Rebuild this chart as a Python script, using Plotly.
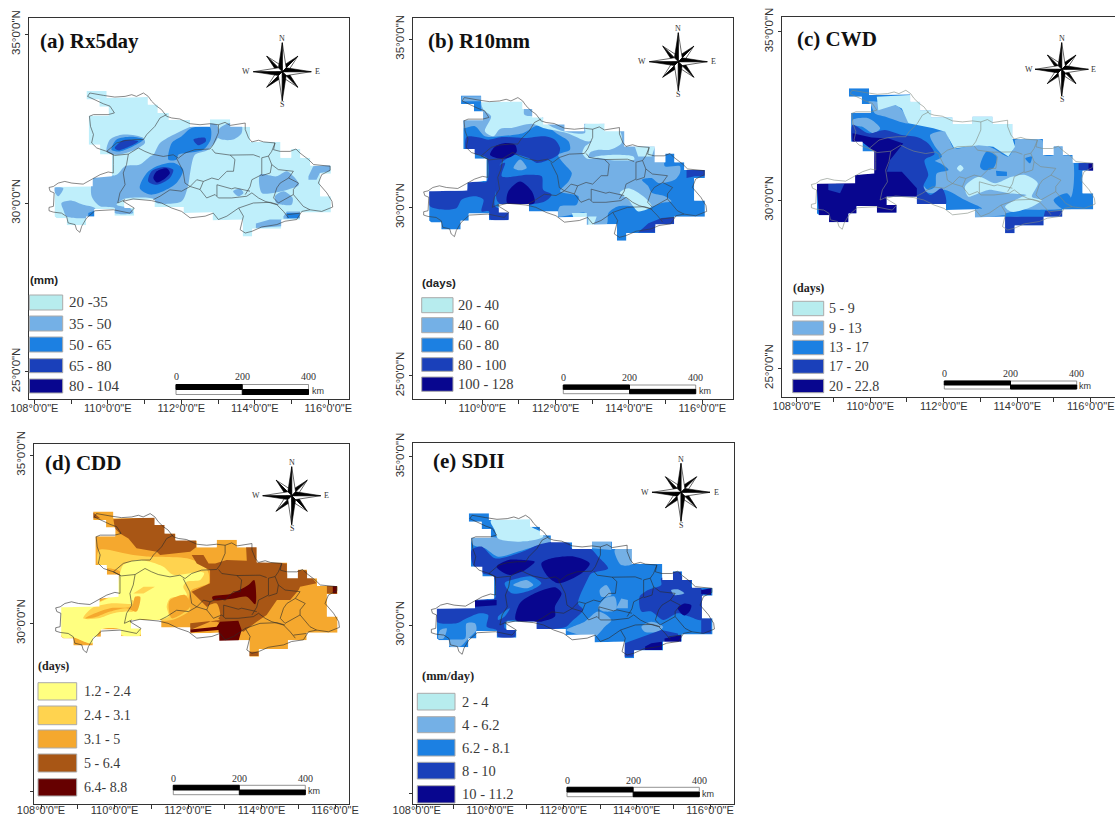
import math
import plotly.graph_objects as go

W, H = 1115, 818

BLUES = ["#B7ECEE", "#74B0E6", "#1C80E2", "#1A40BA", "#08068F"]
MAP_BLUES = ["#BFEFFB", "#74B0E6", "#1C80E2", "#1A40BA", "#08068F"]
BROWNS = ["#FFFF80", "#FFD34F", "#F5A82E", "#A85615", "#660000"]

LON_TICKS = [108, 110, 112, 114, 116]
LON_MINOR = [109, 111, 113, 115, 117]
LAT_TICKS = [25, 30, 35]

PROVINCE = [(109.45,33.16),(109.51,33.26),(109.88,33.19),(110.19,33.14),(110.47,33.16),(110.65,33.21),(110.78,33.16),(110.97,33.26),(111.10,33.16),(111.19,33.02),(111.33,32.87),(111.46,32.77),(111.60,32.57),(111.74,32.52),(111.96,32.49),(112.24,32.35),(112.51,32.32),(112.78,32.35),(113.01,32.32),(113.19,32.39),(113.33,32.30),(113.74,32.37),(113.74,32.18),(113.83,31.93),(113.92,31.81),(114.10,31.86),(114.24,31.81),(114.55,31.78),(114.51,31.58),(114.69,31.53),(114.96,31.53),(115.12,31.60),(115.23,31.48),(115.46,31.29),(115.60,31.14),(116.05,31.09),(116.05,30.97),(115.82,30.84),(115.73,30.59),(115.96,30.30),(116.10,30.05),(116.12,29.88),(115.82,29.75),(115.50,29.80),(115.28,29.75),(115.14,29.51),(114.82,29.46),(114.60,29.36),(114.19,29.29),(113.92,29.16),(113.74,29.11),(113.60,29.21),(113.69,29.61),(113.56,29.85),(113.24,29.61),(113.01,29.51),(112.87,29.70),(112.65,29.61),(112.24,29.56),(112.01,29.75),(111.74,29.85),(111.46,30.00),(111.19,30.07),(110.69,30.12),(110.42,30.05),(110.72,29.85),(110.60,29.70),(110.15,29.80),(109.65,29.77),(109.51,29.65),(109.42,29.55),(109.29,29.31),(109.24,29.13),(109.15,29.21),(109.11,29.36),(108.92,29.41),(108.88,29.60),(108.74,29.70),(108.52,29.73),(108.40,29.77),(108.40,29.87),(108.52,29.90),(108.53,30.10),(108.54,30.30),(108.43,30.35),(108.40,30.46),(108.52,30.49),(108.65,30.59),(108.83,30.64),(109.02,30.59),(109.33,30.56),(109.65,30.74),(109.79,30.84),(110.01,30.92),(110.15,30.89),(110.15,31.14),(110.15,31.43),(109.97,31.53),(109.70,31.63),(109.56,31.78),(109.61,32.03),(109.53,32.27),(109.50,32.57),(109.61,32.62),(110.01,32.62),(110.18,32.67),(110.06,32.87),(109.88,32.94),(109.65,33.06),(109.45,33.16)]

PREFECTURES = [
 [(109.97,31.53),(110.24,31.78),(110.47,31.85),(110.74,31.88),(110.97,31.88),(111.06,32.03),(111.28,32.27),(111.42,32.52),(111.60,32.62)],
 [(109.97,31.53),(110.19,31.41),(110.56,31.45),(110.83,31.63),(111.01,31.53),(111.19,31.45),(111.51,31.38),(111.78,31.43),(111.92,31.33),(112.10,31.48),(112.37,31.58),(112.78,31.60),(112.87,31.73),(113.01,32.08),(113.01,32.32)],
 [(110.56,31.45),(110.51,31.14),(110.42,30.89),(110.47,30.54),(110.33,30.30),(110.27,30.00),(110.47,30.10)],
 [(111.87,31.33),(112.05,30.94),(112.10,30.59),(112.24,30.49),(112.01,30.35),(111.69,30.39),(111.42,30.20),(111.24,30.10)],
 [(112.83,31.60),(112.92,31.48),(113.33,31.42),(113.96,31.43),(114.14,31.36)],
 [(113.33,31.42),(113.46,31.29),(113.42,30.94),(113.24,30.94),(113.01,30.69),(112.83,30.74),(112.60,30.64),(112.51,30.40),(112.69,30.15),(112.92,30.25),(113.01,30.15),(113.37,30.15),(113.78,30.20),(113.92,30.30),(114.10,30.15),(114.28,30.05),(114.60,29.95),(114.78,29.75),(114.92,29.56)],
 [(112.60,30.64),(112.42,30.69),(112.24,30.49),(112.51,30.40)],
 [(112.97,30.54),(112.97,30.20)],
 [(112.97,30.54),(113.37,30.42),(113.46,30.45),(113.87,30.35)],
 [(114.19,31.34),(114.19,30.84),(113.92,30.69),(113.87,30.48),(113.74,30.25)],
 [(114.19,31.34),(114.37,31.39),(114.46,31.14),(114.42,30.89),(114.19,30.81)],
 [(114.55,31.78),(114.46,31.53),(114.37,31.39)],
 [(114.46,31.14),(114.64,30.99),(115.05,30.94),(114.92,30.74),(114.69,30.59),(114.60,30.45),(114.51,30.15),(114.64,30.00),(115.05,30.25),(115.32,29.90),(115.50,29.80)],
 [(114.92,30.74),(115.19,30.59),(115.05,30.40),(115.05,30.25)],
 [(113.56,29.85),(113.96,30.00),(114.42,30.02),(114.64,29.95)],
 [(114.87,29.65),(115.23,29.70)],
]

GRID_MASK = [(109.42,33.32),(109.97,33.32),(109.97,33.12),(111.09,33.14),(111.09,32.92),(111.36,32.92),(111.36,32.67),(111.66,32.67),(111.66,32.46),(112.24,32.46),(112.24,32.26),(112.78,32.26),(112.78,32.48),(113.33,32.48),(113.33,32.26),(113.87,32.26),(113.87,31.81),(114.70,31.81),(114.70,31.34),(114.99,31.34),(114.99,31.60),(115.24,31.60),(115.24,31.34),(115.51,31.34),(115.51,31.11),(116.07,31.11),(116.07,30.87),(115.78,30.87),(115.78,30.20),(116.07,30.20),(116.07,29.72),(115.23,29.72),(115.23,29.50),(114.72,29.50),(114.72,29.24),(113.93,29.24),(113.93,29.01),(113.67,29.01),(113.67,29.50),(113.38,29.50),(112.85,29.48),(112.85,29.72),(112.06,29.70),(112.06,29.88),(111.27,29.88),(111.27,30.10),(110.45,30.10),(110.45,29.85),(110.72,29.85),(110.72,29.62),(110.18,29.62),(110.18,29.82),(109.63,29.82),(109.63,29.60),(109.41,29.60),(109.41,29.34),(108.88,29.34),(108.88,29.55),(108.61,29.55),(108.55,29.60),(108.55,30.48),(109.59,30.50),(109.59,30.74),(110.11,30.79),(110.11,31.44),(109.79,31.44),(109.79,31.73),(109.48,31.73),(109.48,32.59),(110.02,32.59),(110.02,32.85),(109.77,32.85),(109.77,33.07),(109.42,33.07)]

# (a) Rx5day
A_CLASS2 = [
 [(109.97,31.53),(110.06,31.88),(110.42,32.03),(110.97,31.93),(111.01,31.78),(110.74,31.58),(110.24,31.43)],
 [(111.24,31.43),(111.42,31.78),(111.87,32.07),(112.42,32.32),(112.96,32.32),(113.01,31.98),(112.73,31.58),(112.37,31.43),(112.24,30.89),(112.19,30.54),(112.01,30.05),(111.33,30.00),(111.24,30.12),(110.44,30.12),(110.24,29.95),(110.60,29.85),(110.69,29.70),(110.19,29.70),(110.19,29.85),(109.79,29.90),(109.56,30.20),(109.61,30.74),(110.24,30.84),(110.47,31.09),(110.87,31.14),(111.15,31.38)],
 [(108.74,30.00),(109.02,30.07),(109.33,29.95),(109.65,29.85),(109.65,29.60),(108.88,29.60),(108.79,29.80)],
 [(108.52,30.44),(108.79,30.44),(108.65,30.20)],
 [(113.05,32.22),(113.32,32.37),(113.64,32.32),(113.64,32.07),(113.41,31.88),(113.10,31.88),(112.96,31.98)],
 [(114.14,30.84),(114.59,30.79),(114.87,30.94),(115.05,30.79),(115.20,30.54),(114.91,30.40),(114.50,30.30),(114.19,30.30)],
 [(114.55,30.20),(114.78,30.35),(115.03,30.15),(115.00,29.95),(114.59,30.00)],
 [(115.46,30.79),(115.59,31.09),(116.05,31.14),(116.05,30.94),(115.77,30.89),(115.68,30.69),(115.46,30.69)],
 [(114.03,29.39),(114.41,29.51),(114.73,29.51),(114.73,29.31),(114.03,29.26)],
 [(114.78,29.60),(114.87,29.75),(115.23,29.75),(115.23,29.55),(114.78,29.53)],
 [(113.41,30.35),(113.60,30.42),(113.69,30.30),(113.55,30.20)],
]
A_CLASS3 = [
 [(110.10,31.58),(110.24,31.88),(110.65,31.96),(110.97,31.88),(110.69,31.68),(110.33,31.53)],
 [(111.65,31.28),(111.74,31.78),(112.01,31.98),(112.28,32.22),(112.78,32.25),(112.80,31.88),(112.60,31.58),(112.14,31.48),(111.92,31.43),(111.87,31.28)],
 [(110.87,30.44),(111.06,30.89),(111.33,31.09),(111.78,31.19),(112.05,30.99),(111.87,30.59),(111.51,30.35),(111.15,30.25)],
 [(109.47,29.70),(109.65,29.78),(109.65,29.60),(109.47,29.60)],
 [(114.87,29.70),(115.23,29.70),(115.18,29.55),(114.87,29.55)],
]
A_CLASS4 = [
 [(110.19,31.63),(110.42,31.86),(110.83,31.83),(110.60,31.68),(110.29,31.56)],
 [(112.33,31.88),(112.65,31.93),(112.67,31.83),(112.46,31.71)],
 [(111.10,30.64),(111.19,30.94),(111.51,31.07),(111.78,30.99),(111.69,30.74),(111.33,30.54)],
]
A_CLASS5 = [
 [(111.24,30.74),(111.33,30.94),(111.60,31.03),(111.69,30.89),(111.51,30.69),(111.33,30.61)],
]

# (b) R10mm
B_CLASS2 = [
 [(109.48,32.65),(109.98,32.65),(109.98,33.15),(111.12,33.20),(111.62,32.75),(112.80,32.49),(113.80,32.49),(114.12,31.81),(114.71,31.81),(114.71,31.47),(114.94,31.51),(114.98,31.22),(115.39,31.22),(115.39,31.02),(115.25,30.82),(114.80,30.72),(114.62,30.87),(114.35,30.82),(114.53,30.62),(114.62,30.43),(114.98,30.33),(115.16,30.18),(114.89,30.13),(114.53,29.98),(114.16,30.03),(113.71,30.03),(113.44,29.83),(113.39,29.49),(112.80,29.49),(112.80,29.83),(112.07,29.73),(112.12,30.03),(112.57,30.08),(112.62,30.33),(112.12,30.48),(112.35,30.77),(112.44,31.02),(112.21,31.32),(112.07,31.56),(112.39,31.71),(112.35,31.96),(112.07,32.16),(111.66,32.45),(111.44,32.41),(111.12,32.21),(110.48,32.11),(110.07,32.11),(109.80,32.41),(109.48,32.36)],
 [(109.44,33.30),(109.98,33.30),(109.98,33.15),(109.44,33.15)],
 [(110.85,31.17),(111.03,31.42),(111.21,31.17),(111.03,31.10)],
]
B_CLASS1 = [
 [(109.98,33.15),(111.12,33.17),(111.15,32.75),(111.62,32.68),(111.80,32.45),(112.21,32.26),(112.80,32.21),(112.80,32.46),(113.35,32.46),(113.35,32.31),(113.75,32.26),(113.80,31.91),(113.48,31.71),(113.16,31.71),(112.94,31.63),(112.89,31.47),(113.21,31.53),(113.71,31.56),(114.12,31.51),(114.15,31.42),(113.53,31.40),(113.16,31.47),(112.87,31.44),(112.73,31.61),(112.80,31.81),(112.98,31.96),(112.85,31.96),(112.30,32.21),(111.66,32.36),(111.35,32.48),(110.80,32.36),(110.48,32.33),(110.30,32.11),(110.07,32.26),(110.24,32.70),(110.03,32.90)],
 [(114.16,31.81),(114.71,31.81),(114.62,31.51),(114.25,31.51)],
 [(113.75,30.43),(113.98,30.57),(114.39,30.33),(114.62,30.03),(114.25,29.88),(113.98,30.23)],
 [(112.44,29.83),(112.85,29.83),(112.85,29.68),(112.48,29.71)],
 [(112.89,29.73),(113.12,29.73),(113.03,29.46),(112.89,29.46)],
]
B_CLASS4 = [
 [(109.57,32.09),(109.98,32.06),(110.16,32.01),(110.53,32.09),(111.16,32.06),(111.71,32.11),(111.98,32.01),(112.12,31.76),(112.07,31.56),(111.71,31.37),(111.48,31.32),(111.25,31.47),(110.89,31.56),(110.48,31.27),(110.39,30.62),(110.35,30.03),(110.73,29.88),(110.73,29.65),(110.21,29.65),(110.18,29.88),(109.98,29.88),(110.03,30.23),(109.80,30.33),(109.44,30.23),(109.30,29.98),(108.98,29.93),(108.57,30.03),(108.55,30.48),(109.57,30.52),(109.62,30.77),(110.12,30.77),(110.12,31.47),(109.57,31.66)],
 [(110.44,31.22),(110.62,31.32),(110.53,30.92),(111.25,30.97),(111.62,30.92),(111.66,30.52),(111.89,30.38),(111.71,30.18),(111.25,30.08),(110.48,30.11),(110.39,30.23)],
 [(115.57,31.12),(116.07,31.12),(116.07,30.92),(115.80,30.92),(115.57,30.87)],
 [(114.25,29.25),(114.53,29.53),(114.89,29.68),(115.25,29.71),(115.25,29.51),(114.71,29.44),(114.71,29.25)],
]
B_CLASS5 = [
 [(110.21,31.56),(110.35,31.81),(110.62,31.91),(110.89,31.86),(110.94,31.66),(110.80,31.51),(110.48,31.44)],
 [(110.68,30.13),(110.71,30.48),(111.03,30.77),(111.35,30.48),(111.42,30.13)],
]

# (c) CWD
C_CLASS2 = [
 [(109.52,32.38),(109.95,32.43),(110.27,32.13),(110.09,31.98),(109.77,32.18),(109.52,32.23)],
 [(109.95,32.92),(110.77,32.77),(111.04,32.28),(110.40,32.48),(110.13,32.57),(110.02,32.82)],
 [(111.63,31.93),(112.04,32.03),(112.29,31.53),(112.95,31.66),(113.35,31.53),(113.76,31.29),(113.94,31.68),(113.94,31.78),(114.67,31.78),(114.72,31.34),(114.99,31.34),(114.99,31.58),(115.24,31.58),(115.24,31.34),(115.49,31.29),(115.49,30.15),(115.21,29.75),(114.58,29.70),(114.03,29.50),(113.67,29.55),(112.85,29.50),(112.85,29.72),(113.04,29.75),(112.58,30.00),(112.04,30.30),(111.68,30.20),(111.45,30.30),(111.54,30.69),(111.58,31.04),(111.95,31.29),(111.77,31.58)],
]
C_CLASS3 = [
 [(112.99,30.99),(113.17,31.44),(113.44,31.29),(113.35,30.94),(113.08,30.89)],
 [(113.42,30.87),(113.72,30.84),(113.72,30.71),(113.44,30.71)],
 [(114.22,31.24),(114.40,31.29),(114.35,31.09)],
 [(114.99,30.00),(115.35,30.20),(115.49,30.00),(115.49,29.75),(115.21,29.75)],
 [(113.67,29.60),(114.13,29.72),(114.81,29.70),(115.21,29.72),(115.21,29.50),(113.67,29.50)],
 [(111.54,31.19),(111.90,31.09),(112.13,30.89),(111.81,30.79),(111.77,30.40),(111.58,30.30),(111.45,30.45)],
]
C_CLASS4 = [
 [(109.52,32.23),(109.95,31.98),(110.40,32.08),(110.86,31.93),(111.31,31.86),(111.58,31.68),(111.75,31.37),(111.48,31.19),(111.58,30.74),(111.45,30.40),(111.63,30.15),(111.95,30.35),(112.06,29.88),(111.27,29.88),(111.13,30.40),(110.50,30.79),(110.11,30.79),(110.11,31.44),(109.77,31.73),(109.52,31.73)],
 [(113.67,29.50),(114.72,29.50),(114.72,29.24),(113.93,29.24),(113.93,29.01),(113.67,29.01)],
 [(115.67,31.09),(116.07,31.11),(116.07,30.87),(115.67,30.89)],
 [(114.76,29.68),(115.23,29.68),(115.23,29.50),(114.72,29.50)],
]
C_CLASS5 = [
 [(108.54,30.48),(109.59,30.74),(110.09,30.81),(110.11,31.44),(109.77,31.73),(109.52,31.73),(109.52,31.98),(110.04,31.86),(110.50,31.83),(110.90,31.68),(110.54,31.19),(110.45,30.84),(110.86,30.84),(111.27,30.35),(111.27,30.10),(110.45,30.10),(110.45,29.85),(110.72,29.85),(110.72,29.62),(110.18,29.62),(110.18,29.82),(109.63,29.82),(109.63,29.60),(109.41,29.60),(109.41,29.34),(108.88,29.34),(108.88,29.55),(108.61,29.55)],
 [(115.94,31.09),(116.07,31.09),(116.07,30.87),(115.94,30.87)],
]
C_PATCH4 = [
 [(108.86,30.48),(109.30,30.48),(109.18,30.20),(108.86,30.30)],
]
C_CLASS1 = [
 [(110.18,33.07),(111.09,33.12),(111.09,32.92),(111.36,32.92),(111.36,32.67),(111.66,32.67),(111.66,32.46),(112.24,32.46),(112.24,32.26),(112.78,32.26),(112.78,32.48),(113.33,32.48),(113.33,32.26),(113.87,32.26),(113.87,31.83),(113.94,31.58),(113.76,31.29),(113.35,31.58),(112.95,31.63),(112.29,31.53),(112.04,32.03),(111.72,32.13),(111.04,32.28),(110.86,32.72),(110.68,32.82),(110.22,32.67)],
 [(112.58,30.40),(112.95,30.69),(113.40,30.50),(113.85,30.69),(114.22,30.74),(114.56,30.50),(114.40,30.10),(114.67,30.00),(114.40,29.80),(113.85,29.65),(113.67,29.80),(114.13,30.10),(114.26,30.15),(113.76,30.20),(113.22,30.30),(112.95,30.20),(112.67,30.10)],
 [(112.36,30.94),(112.45,31.04),(112.54,30.94),(112.45,30.84)],
]

# (d) CDD
D_CLASS2 = [
 [(109.58,32.18),(110.51,32.03),(110.97,31.98),(111.24,31.98),(111.97,31.93),(112.42,31.73),(112.56,31.49),(112.56,31.19),(112.33,31.09),(112.10,30.99),(112.01,30.69),(112.06,30.40),(111.56,30.10),(111.24,30.08),(110.70,30.08),(110.70,29.65),(110.20,29.65),(110.15,29.82),(109.61,29.82),(109.38,29.41),(108.90,29.58),(108.59,29.60),(108.54,30.50),(109.33,30.54),(110.01,30.94),(110.15,31.53),(109.56,31.73)],
]
D_CLASS1 = [
 [(110.24,31.73),(110.60,31.88),(110.97,31.83),(111.33,31.68),(111.60,31.44),(112.33,31.53),(112.44,31.49),(112.33,31.29),(111.97,31.24),(111.87,31.09),(111.97,30.84),(111.51,30.74),(111.42,30.50),(111.47,30.20),(111.15,30.10),(110.70,30.10),(110.70,29.65),(110.20,29.65),(110.15,29.82),(109.65,29.82),(109.38,29.41),(108.90,29.58),(108.59,29.58),(108.54,30.50),(109.33,30.54),(110.01,30.89),(110.15,31.49)],
]
D_OVER2 = [
 [(109.15,30.15),(109.38,30.45),(109.88,30.59),(110.47,30.59),(110.47,30.69),(110.60,30.59),(110.51,30.35),(110.33,30.35),(109.97,30.30),(109.56,30.15)],
 [(110.51,30.89),(110.79,31.09),(111.10,31.09),(110.79,30.89)],
]
D_OVER3 = [
 [(109.20,30.15),(109.47,30.30),(109.88,30.45),(110.47,30.50),(110.56,30.79),(110.70,30.79),(110.60,30.35),(110.33,30.45),(109.88,30.35),(109.47,30.18)],
 [(111.51,30.69),(111.92,30.84),(112.06,30.50),(111.56,30.15),(111.47,30.50)],
]
D_CLASS4 = [
 [(109.97,33.09),(111.10,33.15),(111.10,32.92),(111.38,32.92),(111.38,32.67),(111.65,32.67),(111.65,32.48),(112.22,32.48),(112.22,32.26),(112.06,32.13),(111.24,32.03),(111.15,32.13),(110.60,32.23),(110.38,32.52),(110.15,32.67),(110.01,32.82)],
 [(112.10,32.03),(112.42,32.03),(112.56,31.78),(112.74,31.78),(113.05,31.88),(113.60,31.86),(113.58,32.28),(113.87,32.28),(113.87,31.83),(114.69,31.78),(114.69,31.49),(114.96,31.49),(114.96,31.58),(115.21,31.58),(115.50,31.19),(115.05,31.09),(115.01,30.99),(114.78,30.69),(114.42,30.69),(114.14,30.25),(113.87,30.05),(113.51,29.75),(112.78,30.05),(112.60,30.05),(112.06,29.80),(112.06,30.00),(112.87,30.10),(112.51,30.50),(112.33,30.69),(112.10,30.94),(112.60,31.19),(112.60,31.58),(112.24,31.78)],
 [(115.78,31.11),(116.05,31.11),(116.05,30.89),(115.78,30.89)],
 [(113.64,29.16),(113.92,29.16),(113.92,29.03),(113.64,29.03)],
 [(109.42,33.29),(109.61,33.12),(109.42,33.12)],
]
D_PATCH3 = [
 [(112.53,30.50),(112.78,30.59),(112.87,30.20),(112.60,30.05),(112.51,30.20)],
]
D_CLASS5 = [
 [(112.66,30.79),(113.15,30.87),(113.64,31.14),(113.80,31.29),(113.83,30.57),(113.60,30.79),(113.24,30.74),(112.69,30.69)],
 [(112.06,29.82),(112.78,29.90),(112.87,30.05),(113.37,30.08),(113.46,29.80),(113.37,29.46),(112.85,29.46),(112.83,29.80),(112.06,29.73)],
 [(115.94,31.11),(116.05,31.11),(116.05,30.89),(115.94,30.89)],
]

# (e) SDII
E_CLASS2 = [
 [(109.48,32.60),(110.18,32.60),(110.95,32.48),(111.49,32.64),(111.77,32.48),(111.22,32.33),(110.77,32.18),(110.22,32.03),(109.86,32.28),(109.54,32.38)],
 [(113.40,32.23),(113.85,32.28),(113.90,31.83),(113.58,31.78)],
 [(112.78,32.48),(113.31,32.48),(113.31,32.23),(112.76,32.28)],
 [(112.99,31.04),(113.17,31.19),(113.31,30.89),(113.04,30.84)],
 [(113.13,30.79),(113.40,30.84),(113.44,30.45),(113.13,30.40),(112.95,30.50)],
 [(112.08,29.85),(112.58,30.10),(112.95,30.40),(113.31,30.15),(113.13,29.95),(112.85,29.65),(112.31,29.75)],
 [(109.36,30.05),(109.59,30.05),(109.63,29.85),(109.41,29.60),(109.18,29.36),(108.91,29.36),(108.86,29.55),(109.32,29.60)],
 [(114.13,29.95),(114.40,30.10),(114.72,29.95),(114.58,29.80),(114.22,29.80)],
 [(113.58,30.79),(113.76,30.74),(113.76,30.50),(113.44,30.50)],
 [(108.64,29.85),(108.82,29.90),(108.73,29.60),(108.59,29.60)],
]
E_CLASS1 = [
 [(110.02,33.10),(111.09,33.14),(111.13,32.92),(111.38,32.77),(111.45,32.62),(110.95,32.48),(110.22,32.57),(110.13,32.82)],
]
E_CLASS4 = [
 [(109.50,32.23),(109.77,32.33),(110.13,31.98),(110.77,32.13),(111.31,32.38),(111.77,32.48),(112.17,32.43),(112.22,32.28),(112.72,32.28),(112.95,32.03),(113.22,31.68),(112.76,31.53),(112.63,31.29),(112.40,30.64),(112.54,30.45),(112.22,30.10),(112.04,29.93),(111.22,29.90),(111.22,30.10),(110.42,30.10),(110.40,29.90),(110.68,29.85),(110.68,29.65),(110.22,29.65),(110.18,29.85),(109.91,29.95),(109.95,30.30),(109.72,30.35),(109.27,30.15),(109.09,30.05),(108.54,30.10),(108.52,30.50),(109.59,30.54),(109.59,30.74),(110.13,30.79),(110.09,31.44),(109.81,31.53),(109.54,31.78)],
 [(114.08,30.84),(114.31,31.04),(114.67,31.19),(114.67,31.39),(115.49,31.39),(115.49,31.14),(115.76,31.09),(115.76,30.15),(115.44,30.25),(115.12,30.35),(114.72,30.15),(114.40,30.40),(114.13,30.40)],
 [(114.96,31.58),(115.21,31.58),(115.21,31.39),(114.96,31.39)],
 [(115.76,30.20),(116.03,30.20),(116.03,29.75),(115.76,29.75)],
 [(113.67,29.46),(114.03,29.60),(114.67,29.85),(115.12,29.75),(115.21,29.50),(114.69,29.50),(114.69,29.26),(113.94,29.26),(113.90,29.06),(113.65,29.06),(113.65,29.31)],
]
E_PATCH3 = [
 [(110.40,31.24),(110.77,31.39),(111.13,31.44),(111.40,31.24),(111.13,31.04),(110.59,30.94)],
 [(110.22,30.25),(110.54,30.50),(110.40,30.25),(110.22,30.15)],
]
E_PATCH2 = [
 [(110.63,31.19),(110.99,31.34),(111.18,31.19),(110.99,31.09)],
 [(114.94,31.04),(115.12,31.06),(115.30,30.94),(115.03,30.89)],
]
E_CLASS5 = [
 [(110.18,31.73),(110.50,31.93),(110.90,31.93),(111.22,31.88),(110.95,31.63),(110.50,31.49)],
 [(111.40,31.83),(111.68,31.98),(112.31,32.03),(112.72,31.83),(112.49,31.53),(111.86,31.24),(111.58,31.44)],
 [(110.70,30.15),(110.81,30.64),(111.22,30.94),(111.77,31.12),(111.95,30.94),(111.77,30.54),(111.77,30.25),(111.40,30.10),(111.22,30.10)],
 [(109.59,30.72),(110.18,30.74),(110.18,30.59),(109.59,30.54)],
 [(115.12,30.50),(115.30,30.64),(115.49,30.59),(115.44,30.40),(115.30,30.28)],
 [(115.76,31.04),(116.03,31.09),(116.03,30.89),(115.76,30.92)],
 [(114.23,29.36),(114.40,29.46),(114.69,29.50),(114.69,29.26),(114.23,29.26)],
 [(114.76,29.60),(115.21,29.70),(115.21,29.50),(114.76,29.50)],
]

TITLES = ["(a) Rx5day", "(b) R10mm", "(c) CWD", "(d) CDD", "(e) SDII"]
UNITS = ["(mm)", "(days)", "(days)", "(days)", "(mm/day)"]
CLASS_LABELS = [
 ["20 -35", "35 - 50", "50 - 65", "65 - 80", "80 - 104"],
 ["20 - 40", "40 - 60", "60 - 80", "80 - 100", "100 - 128"],
 ["5 - 9", "9 - 13", "13 - 17", "17 - 20", "20 - 22.8"],
 ["1.2 - 2.4", "2.4 - 3.1", "3.1 - 5", "5 - 6.4", "6.4- 8.8"],
 ["2 - 4", "4 - 6.2", "6.2 - 8.1", "8 - 10", "10 - 11.2"],
]
SCALE_LABELS = ["0", "200", "400"]

PANELS = [
 dict(frame=(29, 348.5, 18, 399), lon=(34.3, 328.3), lat=(34.3, 371.7), pal=BLUES, map=MAP_BLUES, base=0,
      paint=[(1, A_CLASS2), (2, A_CLASS3), (3, A_CLASS4), (4, A_CLASS5)], line="#3a3a3a",
      title=(40, 41, 21), unit=(29.5, 280, "Liberation Sans", 11.5), swx=(29.3, 62.7),
      swy=[(295, 310), (316, 331), (337, 352), (358.7, 372.7), (379, 393)], tx=69, lsize=15,
      bar=(176, 308.5, 384.5, 394.5), bary=376.5, km=(318, 390.5),
      rose=(282.3, 71.7, 1.0), lat_labels=[True, True, True], standoff=-5),
 dict(frame=(412.7, 733.3, 18, 399), lon=(409.0, 702.3), lat=(39, 375.7), pal=BLUES, map=MAP_BLUES, base=2,
      paint=[(1, B_CLASS2), (0, B_CLASS1), (3, B_CLASS4), (4, B_CLASS5)], line="#3a3a3a",
      title=(428, 41, 21), unit=(421.7, 283, "Liberation Sans", 11.5), swx=(421.7, 453),
      swy=[(297.7, 312.7), (317.7, 332.7), (338, 352), (357.7, 371.3), (377, 391.3)], tx=458, lsize=14.5,
      bar=(563.3, 695.7, 385, 393.7), bary=377, km=(704.5, 390.7),
      rose=(678.3, 61.7, 1.0), lat_labels=[True, True, True], standoff=-5),
 dict(frame=(781.7, 1115, 17.3, 396.7), lon=(796.7, 1090.7), lat=(31.7, 368.3), pal=BLUES, map=MAP_BLUES, base=2,
      paint=[(1, C_CLASS2), (2, C_CLASS3), (3, C_CLASS4), (4, C_CLASS5), (3, C_PATCH4), (0, C_CLASS1)], line="#7f8a80",
      title=(797, 39, 21), unit=(792.7, 288, "Liberation Serif", 12), swx=(792.7, 823.7),
      swy=[(301.3, 315.7), (321, 335), (340.3, 354.7), (359.3, 373.3), (379.3, 392.7)], tx=829, lsize=14,
      bar=(944.3, 1076.7, 381, 389), bary=373.3, km=(1085, 386.3),
      rose=(1061.7, 69.3, 0.92), lat_labels=[True, True, True], standoff=-5),
 dict(frame=(33.7, 348.7, 444.3, 804), lon=(41, 335), lat=(455, 791.7), pal=BROWNS, map=BROWNS, base=2,
      paint=[(1, D_CLASS2), (0, D_CLASS1), (1, D_OVER2), (2, D_OVER3), (3, D_CLASS4), (2, D_PATCH3), (4, D_CLASS5)], line="#2a2a2a",
      title=(44.5, 463, 21), unit=(38.3, 666, "Liberation Serif", 12), swx=(38, 76.7),
      swy=[(682.7, 700), (706, 724.7), (730, 748), (754, 772), (778.7, 796)], tx=84, lsize=14,
      bar=(173.3, 305.3, 785.3, 794.7), bary=778, km=(314, 791.3),
      rose=(291.7, 495.7, 1.0), lat_labels=[False, True, True], standoff=-8),
 dict(frame=(412.7, 734, 443.3, 804), lon=(416.7, 710), lat=(456.7, 793.3), pal=BLUES, map=MAP_BLUES, base=2,
      paint=[(1, E_CLASS2), (0, E_CLASS1), (3, E_CLASS4), (2, E_PATCH3), (1, E_PATCH2), (4, E_CLASS5)], line="#2a2a2a",
      title=(432.5, 461, 21), unit=(421.7, 676, "Liberation Serif", 12.5), swx=(417.3, 455),
      swy=[(693.3, 710), (716.7, 732.7), (739.3, 756), (762.3, 779), (785.7, 803)], tx=461.7, lsize=14.5,
      bar=(567, 699.3, 787.3, 796.7), bary=780, km=(708, 794),
      rose=(681, 492.3, 1.0), lat_labels=[False, True, True], standoff=-8),
]


def px(x):
    return x / W


def py(y):
    return 1 - y / H


def poly_xy(points):
    xs = [p[0] for p in points] + [points[0][0]]
    ys = [p[1] for p in points] + [points[0][1]]
    return xs, ys


def surround(points):
    lon0, lon1, lat0, lat1 = 108.2, 116.45, 28.75, 33.6
    xs, ys = poly_xy(points)
    return ([lon0, lon1, lon1, lon0, lon0, xs[0]] + xs + [lon0],
            [lat0, lat0, lat1, lat1, lat0, ys[0]] + ys + [lat0])


def is_blocky(points):
    n = len(points)
    square = sum(1 for k in range(n)
                 if abs(points[k][0] - points[(k + 1) % n][0]) < 0.03
                 or abs(points[k][1] - points[(k + 1) % n][1]) < 0.03)
    return square / n > 0.4


fig = go.Figure()
shapes, notes = [], []


def text(x, y, s, size, family="Liberation Serif", color="#333333", anchor="left"):
    notes.append(dict(x=px(x), y=py(y), xref="paper", yref="paper", text=s, showarrow=False,
                      xanchor=anchor, yanchor="middle", align="left", borderpad=0, borderwidth=0,
                      font=dict(size=size, family=family, color=color)))


def tri(points, fill):
    d = "M" + " L".join(f"{px(a):.5f} {py(b):.5f}" for a, b in points) + " Z"
    shapes.append(dict(type="path", path=d, xref="paper", yref="paper", layer="above",
                       fillcolor=fill, line=dict(color="#000000", width=0.6)))


def rect(x0, x1, y0, y1, fill, edge=None, width=1):
    shapes.append(dict(type="rect", xref="paper", yref="paper", layer="above",
                       x0=px(x0), x1=px(x1), y0=py(y1), y1=py(y0), fillcolor=fill,
                       line=dict(color=edge or fill, width=width)))


def rose(cx, cy, s):
    def at(deg, r):
        a = math.radians(deg)
        return cx + math.sin(a) * r * s, cy - math.cos(a) * r * s
    for deg, r in [(45, 22), (135, 22), (225, 22), (315, 22), (0, 29), (90, 29), (180, 29), (270, 29)]:
        tip, hub = at(deg, r), at(0, 0)
        tri([tip, hub, at(deg + 45, 5.5)], "#ffffff")
        tri([tip, hub, at(deg - 45, 5.5)], "#000000")
    for lab, deg, r in [("N", 0, 33), ("E", 90, 35), ("S", 180, 33), ("W", 270, 36)]:
        x, y = at(deg, r)
        text(x, y, lab, 8, anchor="center")


for i, p in enumerate(PANELS, start=1):
    L, R, T, B = p["frame"]
    x108, x116 = p["lon"]
    y35, y25 = p["lat"]
    kx = (x116 - x108) / 8
    ky = (y25 - y35) / 10
    xr = [108 + (L - x108) / kx, 108 + (R - x108) / kx]
    yr = [35 - (B - y35) / ky, 35 - (T - y35) / ky]
    xa, ya = f"x{i}", f"y{i}"
    xname, yname = f"xaxis{i}", f"yaxis{i}"
    fig.update_layout(**{
        xname: dict(domain=[px(L), px(R)], range=xr, anchor=ya, showgrid=False, zeroline=False,
                    showline=True, mirror=True, linecolor="#333333", linewidth=1,
                    tickmode="array", tickvals=LON_TICKS,
                    ticktext=[f"{v}°0'0\"E" for v in LON_TICKS],
                    ticks="outside", ticklen=4, tickcolor="#333333",
                    ticklabelstandoff=p["standoff"], ticklabeloverflow="allow",
                    minor=dict(tickmode="array", tickvals=LON_MINOR, ticks="outside", ticklen=4, tickcolor="#333333"),
                    tickangle=0, tickfont=dict(family="Liberation Sans", size=11, color="#333333")),
        yname: dict(domain=[py(B), py(T)], range=yr, anchor=xa, showgrid=False, zeroline=False,
                    showline=True, mirror=True, linecolor="#333333", linewidth=1,
                    tickmode="array", tickvals=LAT_TICKS,
                    ticktext=[f"{v}°0'0\"N" if show else "" for v, show in zip(LAT_TICKS, p["lat_labels"])],
                    ticks="outside", ticklen=3, tickcolor="#333333", ticklabeloverflow="allow",
                    tickangle=-90, tickfont=dict(family="Liberation Sans", size=11.5, color="#333333")),
    })

    def area(points, color):
        xs, ys = poly_xy(points)
        blocky = is_blocky(points)
        fig.add_trace(go.Scatter(x=xs, y=ys, xaxis=xa, yaxis=ya, mode="lines", fill="toself",
                                 fillcolor=color,
                                 line=dict(width=0, color=color, shape="linear" if blocky else "spline",
                                           **({} if blocky else {"smoothing": 0.8})),
                                 hoverinfo="skip", showlegend=False))

    area(GRID_MASK, p["map"][p["base"]])
    for cls, polys in p["paint"]:
        for poly in polys:
            area(poly, p["map"][cls])
    mx, my = surround(GRID_MASK)
    fig.add_trace(go.Scatter(x=mx, y=my, xaxis=xa, yaxis=ya, mode="lines", fill="toself",
                             fillcolor="#ffffff", line=dict(width=0, color="#ffffff"),
                             hoverinfo="skip", showlegend=False))
    for line_pts in [PROVINCE] + PREFECTURES:
        fig.add_trace(go.Scatter(x=[q[0] for q in line_pts], y=[q[1] for q in line_pts],
                                 xaxis=xa, yaxis=ya, mode="lines",
                                 line=dict(width=0.6, color=p["line"]),
                                 hoverinfo="skip", showlegend=False))

    tx, ty, ts = p["title"]
    text(tx, ty, f"<b>{TITLES[i-1]}</b>", ts, color="#111111")
    ux, uy, ufam, usz = p["unit"]
    text(ux, uy, f"<b>{UNITS[i-1]}</b>", usz, family=ufam, color="#222222")
    for (y0, y1), color, label in zip(p["swy"], p["pal"], CLASS_LABELS[i-1]):
        rect(p["swx"][0], p["swx"][1], y0, y1, color, "#aaaaaa", 1)
        text(p["tx"], (y0 + y1) / 2, label, p["lsize"], color="#3a3a3a")
    b0, b1, by0, by1 = p["bar"]
    bm = (b0 + b1) / 2
    ym = (by0 + by1) / 2
    rect(b0, b1, by0, by1, "#ffffff", "#777777", 0.8)
    rect(b0, bm, by0, ym, "#000000")
    rect(bm, b1, ym, by1, "#000000")
    for pos, lab in zip([b0, bm, b1], SCALE_LABELS):
        text(pos, p["bary"], lab, 10, anchor="center")
    text(p["km"][0], p["km"][1], "km", 9, family="Liberation Sans", anchor="center")
    rose(*p["rose"])

fig.update_layout(width=W, height=H, margin=dict(l=0, r=0, t=0, b=0, autoexpand=False), autosize=False,
                  plot_bgcolor="#ffffff", paper_bgcolor="#ffffff",
                  shapes=shapes, annotations=notes, showlegend=False)
fig.write_html("out.html", config=dict(displayModeBar=False),
               post_script="document.body.style.margin='0';document.documentElement.style.overflow='hidden';")
